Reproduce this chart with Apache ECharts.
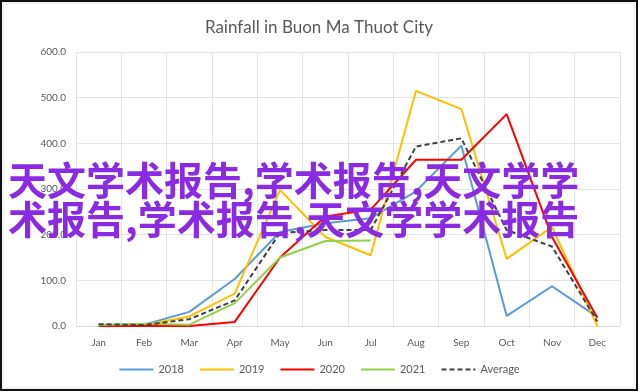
<!DOCTYPE html>
<html>
<head>
<meta charset="utf-8">
<script src="https://cdn.jsdelivr.net/npm/echarts@6/dist/echarts.min.js"></script>
<style>
html,body{margin:0;padding:0;background:#fff;}
#c{width:638px;height:392px;}
</style>
</head>
<body>
<div id="c"></div>
<script>
const months = ['Jan','Feb','Mar','Apr','May','Jun','Jul','Aug','Sep','Oct','Nov','Dec'];
const rain2018 = [3, 3, 31, 103, 206, 225, 236, 295, 395, 22, 87, 20];
const rain2019 = [2, 2, 21, 71, 298, 195, 155, 515, 475, 147, 217, 0];
const rain2020 = [0, 0, 0, 9, 150, 240, 255, 364, 364, 464, 195, 18];
const rain2021 = [2, 5, 3, 50, 150, 186, 187, null, null, null, null, null];
const rainAvg  = [4, 2, 15, 56, 204, 210, 210, 393, 411, 210, 174, 10];
const seriesNames = ['2018','2019','2020','2021','Average'];
const titleText = 'Rainfall in Buon Ma Thuot City';
const overlayLines = ['天文学术报告,学术报告,天文学学', '术报告,学术报告,天文学学术报告'];

const font = 'Lato, "Open Sans", "Liberation Sans", sans-serif';
const chart = echarts.init(document.getElementById('c'), null, {renderer:'canvas'});
const mk = (name, data, color, type) => ({
  name, type:'line', data, symbol:'none', showSymbol:false, smooth:false, connectNulls:false,
  lineStyle:{color, width:2, type: type || 'solid'},
  itemStyle:{color}
});
chart.setOption({
  animation:false,
  backgroundColor:'#fff',
  title:{text:titleText, left:'center', top:14,
    textStyle:{fontFamily:font, fontSize:17, fontWeight:'normal', color:'#595959'}},
  grid:{left:76, right:18, top:52, bottom:66, containLabel:false},
  xAxis:{type:'category', data:months, boundaryGap:true,
    axisLine:{lineStyle:{color:'#d9d9d9', width:1}},
    axisTick:{show:false},
    splitLine:{show:true, lineStyle:{color:'#e4e4e4', width:1}},
    axisLabel:{color:'#595959', fontFamily:font, fontSize:10, margin:12}},
  yAxis:{type:'value', min:0, max:600, interval:100,
    axisLine:{show:false}, axisTick:{show:false},
    splitLine:{lineStyle:{color:'#e4e4e4', width:1}},
    axisLabel:{color:'#595959', fontFamily:font, fontSize:10, margin:10,
      formatter:v => v.toFixed(1)}},
  legend:{bottom:12, left:'center', itemWidth:34, itemHeight:10, itemGap:15,
    itemStyle:{opacity:0},
    textStyle:{color:'#595959', fontFamily:font, fontSize:11},
    data:seriesNames},
  series:[
    mk(seriesNames[0], rain2018, '#5B9BD5'),
    mk(seriesNames[1], rain2019, '#FFC000'),
    mk(seriesNames[2], rain2020, '#FF0000'),
    mk(seriesNames[3], rain2021, '#92D050'),
    mk(seriesNames[4], rainAvg, '#404040', [5,3])
  ],
  graphic:[
    {type:'rect', shape:{x:3, y:3, width:631, height:385}, silent:true,
      style:{fill:'none', stroke:'#e6e6e6', lineWidth:1}, z:100},
    {type:'rect', shape:{x:1, y:1, width:636, height:389}, silent:true,
      style:{fill:'none', stroke:'#111', lineWidth:2}, z:101},
    {type:'text', left:8, top:161, z:200, silent:true,
      style:{text:overlayLines[0], fill:'#8A2BE2',
        font:'bold 39px "Noto Sans CJK SC", sans-serif'}},
    {type:'text', left:8, top:200, z:200, silent:true,
      style:{text:overlayLines[1], fill:'#8A2BE2',
        font:'bold 39px "Noto Sans CJK SC", sans-serif'}}
  ]
});
</script>
</body>
</html>
